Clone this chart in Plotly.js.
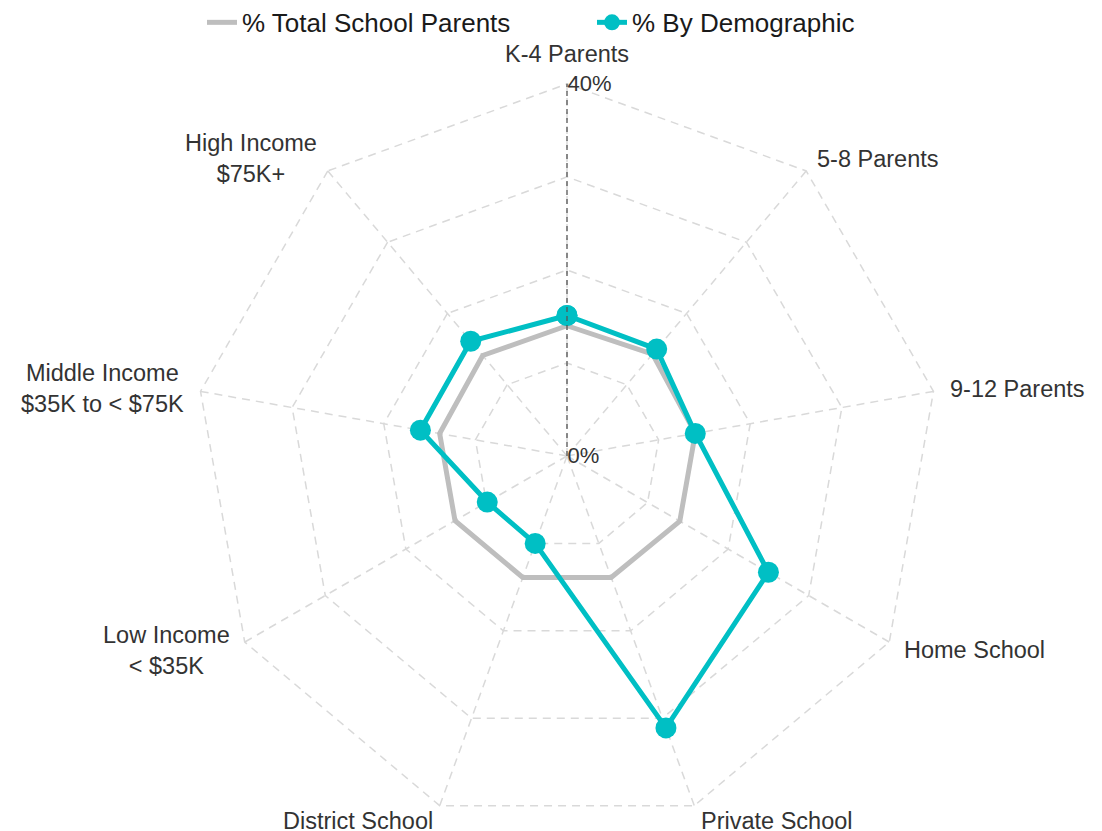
<!DOCTYPE html>
<html>
<head>
<meta charset="utf-8">
<script src="https://cdn.plot.ly/plotly-3.0.1.min.js"></script>
<style>html,body{margin:0;padding:0;background:#fff;}#chart{width:1102px;height:831px;}</style>
</head>
<body>
<div id="chart"></div>
<script>
const categories = ['K-4 Parents', '5-8 Parents', '9-12 Parents', 'Home School', 'Private School', 'District School', 'Low Income < $35K', 'Middle Income $35K to < $75K', 'High Income $75K+'];
const categoryLabels = ['K-4 Parents', '5-8 Parents', '9-12 Parents', 'Home School', 'Private School', 'District School', 'Low Income<br>&lt; $35K', 'Middle Income<br>$35K to &lt; $75K', 'High Income<br>$75K+'];
const totalSchoolParents = [14.0, 14.3, 14.0, 14.0, 13.9, 13.9, 13.9, 13.9, 14.1];
const byDemographic = [15.1, 15.0, 14.0, 25.0, 31.1, 10.0, 9.9, 16.0, 16.1];
const radialTicks = [0, 10, 20, 30, 40];
const radialTickText = ['0%', '', '', '', '40%'];
const radialMax = 40;
const radialEdge = 40.2;   // tiny headroom so the outer 40% ring is drawn

const W = 1102, H = 831;
const margin = {l: 193, r: 161, t: 82, b: 1};
const plotSize = W - margin.l - margin.r;  // square polar area
const labelPad = 14;

const close = a => a.concat([a[0]]);

const traces = [
  {
    type: 'scatterpolar',
    name: '% Total School Parents',
    r: close(totalSchoolParents),
    theta: close(categories),
    mode: 'lines',
    line: {color: '#BEBEBE', width: 5},
    legend: 'legend',
    hoverinfo: 'skip'
  },
  {
    type: 'scatterpolar',
    name: '% By Demographic',
    r: close(byDemographic),
    theta: close(categories),
    mode: 'lines+markers',
    line: {color: '#00BFC4', width: 5},
    marker: {color: '#00BFC4', size: 21},
    legend: 'legend2',
    hoverinfo: 'skip'
  },
  {
    type: 'scatterpolar',
    r: [0, radialMax],
    theta: [categories[0], categories[0]],
    mode: 'lines',
    line: {color: '#555555', width: 1.3, dash: '5px,4px'},
    showlegend: false,
    hoverinfo: 'skip'
  }
];

// category labels placed just outside each polygon vertex (angle derived from category order)
const annotations = categories.map((c, i) => {
  const ang = (90 - i * 360 / categories.length) * Math.PI / 180;
  const cs = Math.cos(ang), sn = Math.sin(ang);
  const rr = 0.5 + labelPad / plotSize;
  const top = Math.abs(cs) < 0.1;
  return {
    xref: 'paper', yref: 'paper',
    x: 0.5 + rr * cs,
    y: 0.5 + rr * sn,
    text: categoryLabels[i],
    showarrow: false,
    xanchor: top ? 'center' : (cs > 0 ? 'left' : 'right'),
    yanchor: top ? (sn > 0 ? 'bottom' : 'top') : 'middle',
    align: 'center',
    borderpad: 0,
    font: {size: 23.5, color: '#333333'}
  };
});

const legendCommon = {
  orientation: 'h',
  xref: 'container', yref: 'container',
  xanchor: 'left',
  y: 0.973, yanchor: 'middle',
  font: {size: 26, color: '#1a1a1a'},
  bgcolor: 'rgba(0,0,0,0)'
};

const layout = {
  width: W,
  height: H,
  paper_bgcolor: '#ffffff',
  plot_bgcolor: '#ffffff',
  margin: margin,
  font: {family: 'Liberation Sans, Arial, sans-serif', color: '#333333'},
  showlegend: true,
  legend: Object.assign({}, legendCommon, {x: 0.1833}),
  legend2: Object.assign({}, legendCommon, {x: 0.5372}),
  annotations: annotations,
  polar: {
    domain: {x: [0, 1], y: [0, 1]},
    bgcolor: '#ffffff',
    gridshape: 'linear',
    angularaxis: {
      rotation: 90,
      direction: 'clockwise',
      type: 'category',
      categoryarray: categories,
      showticklabels: false,
      showline: false,
      showgrid: true,
      gridcolor: '#D9D9D9',
      gridwidth: 1.5,
      griddash: '8px,6px',
      ticks: ''
    },
    radialaxis: {
      range: [0, radialEdge],
      angle: 90,
      tickangle: 90,
      tickvals: radialTicks,
      ticktext: radialTickText,
      showline: false,
      showgrid: true,
      gridcolor: '#D9D9D9',
      gridwidth: 1.5,
      griddash: '8px,6px',
      ticks: '',
      tickfont: {size: 22, color: '#333333'}
    }
  }
};

Plotly.newPlot('chart', traces, layout, {displayModeBar: false, staticPlot: true});
</script>
</body>
</html>
